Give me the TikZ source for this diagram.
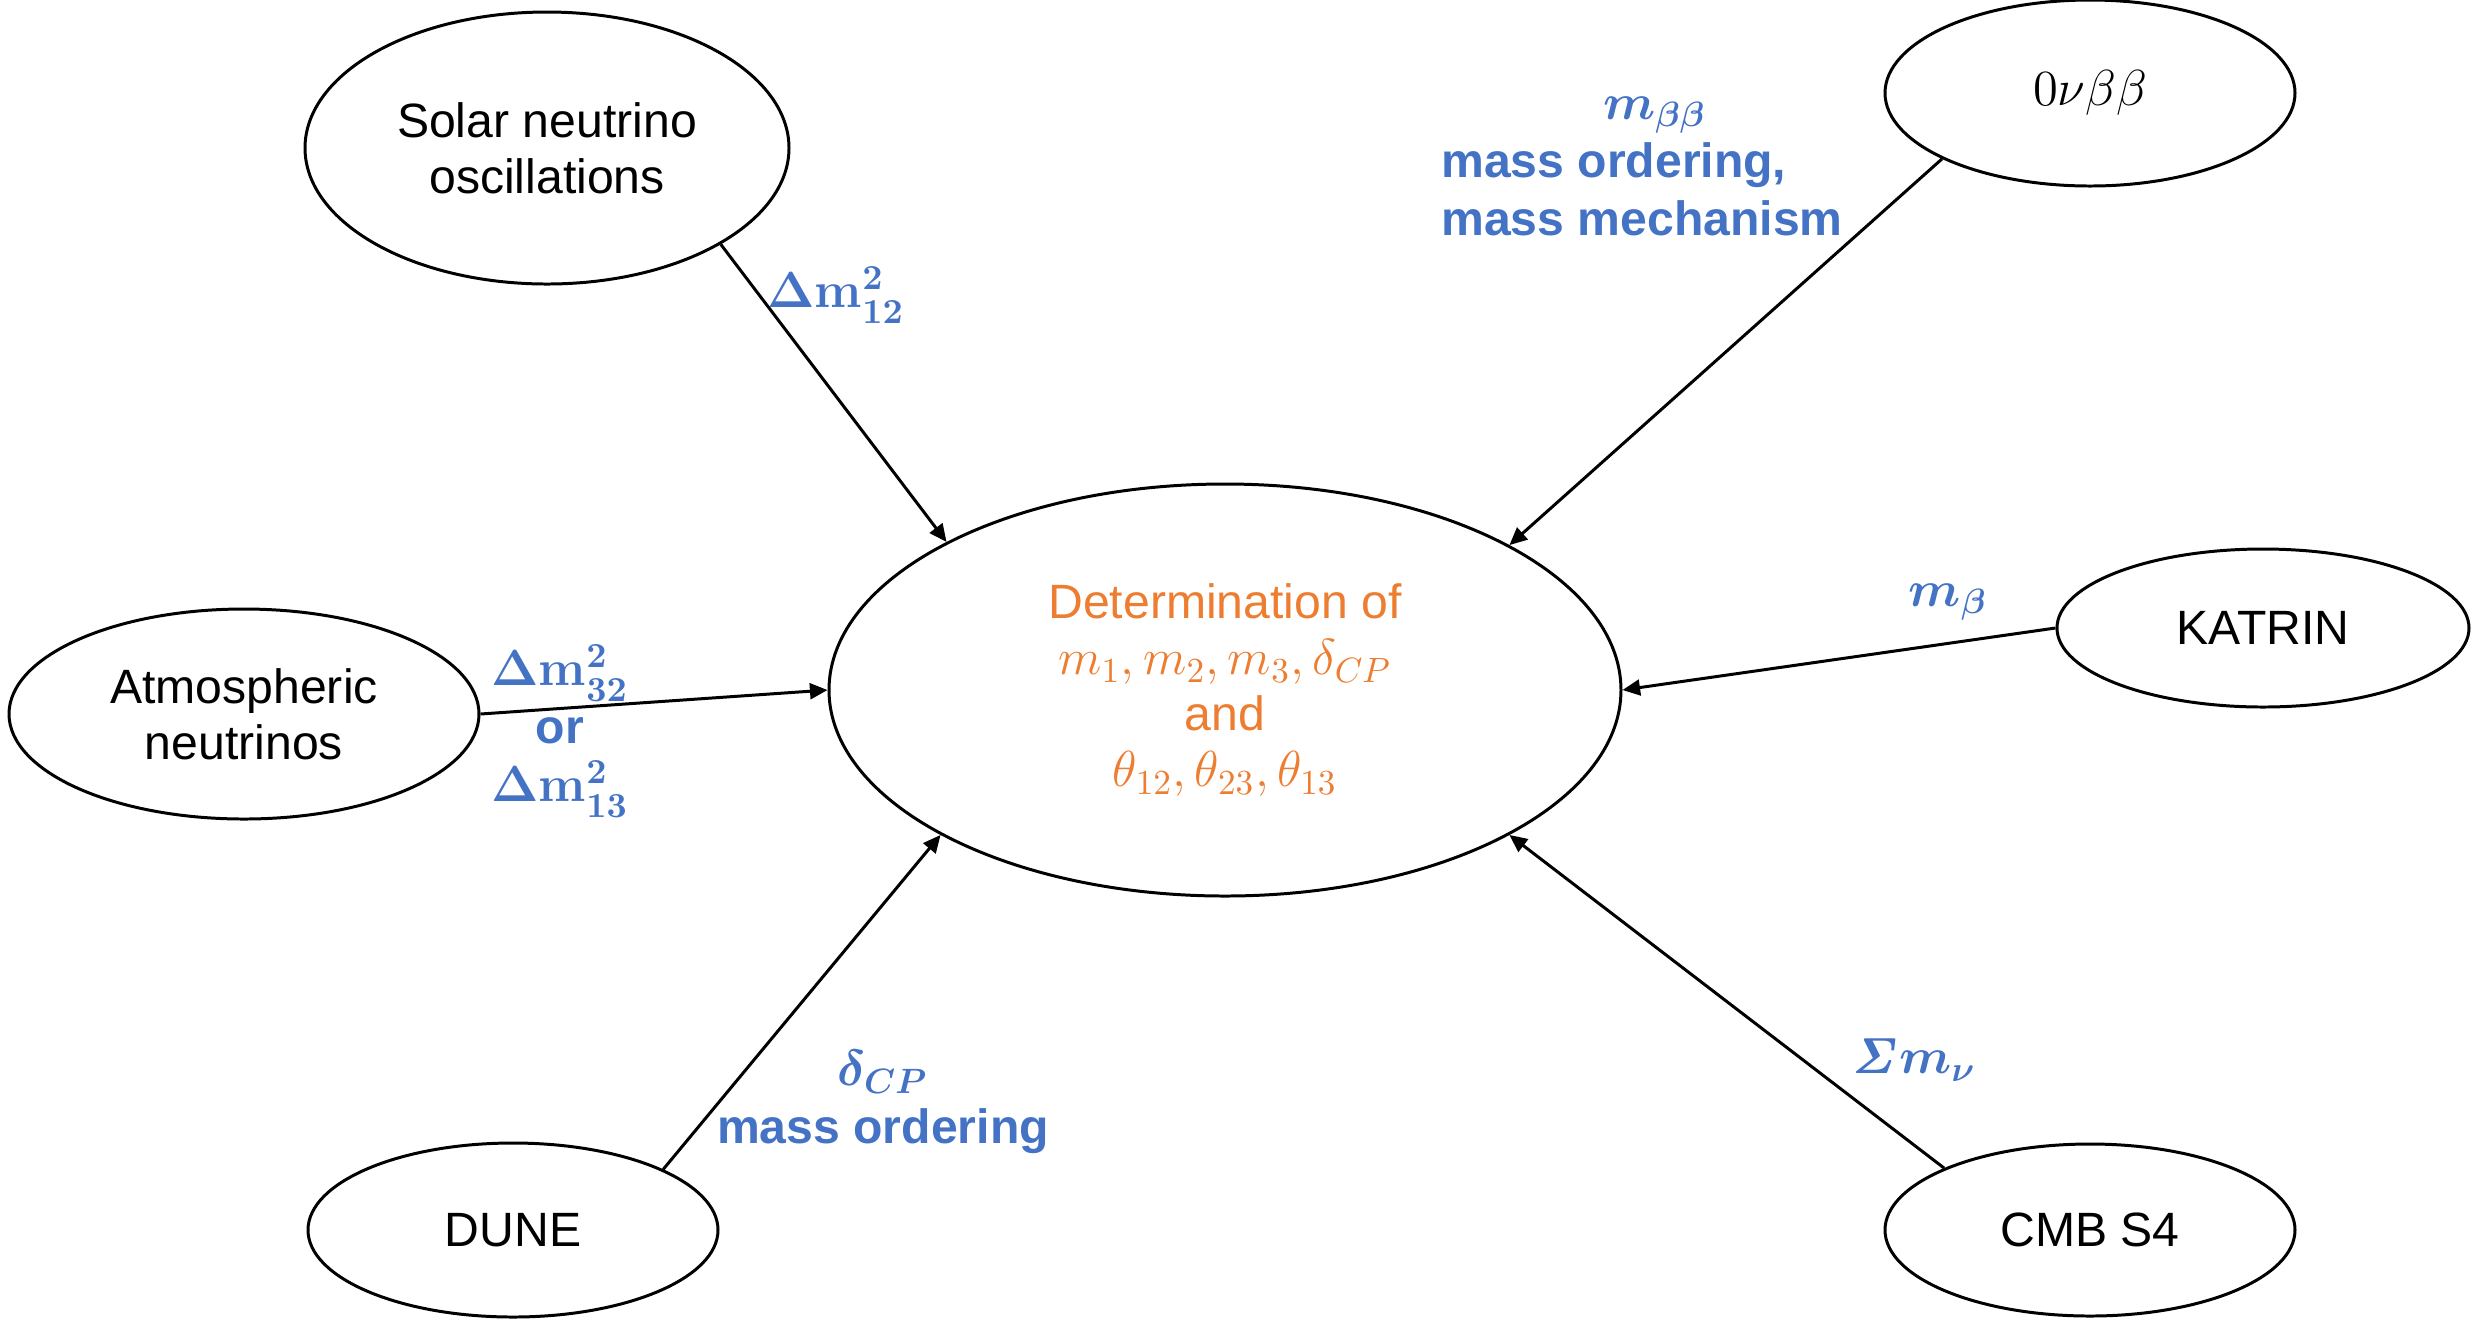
\documentclass[tikz,border=0pt]{standalone}
\usepackage{amsmath,amssymb}
\usepackage[no-math]{fontspec}
\setmainfont{Liberation Sans}
\usepackage{xcolor}
\usepackage{tikz}
\usetikzlibrary{arrows.meta,shapes.geometric}
\definecolor{lblue}{HTML}{4472C4}
\definecolor{lorange}{HTML}{ED7D31}

\begin{document}
\begin{tikzpicture}[line width=0.85pt,
    oval/.style={draw,ellipse,inner sep=0pt,align=center,font=\fontsize{13.7}{16}\selectfont},
    lbl/.style={text=lblue,align=center,font=\bfseries\fontsize{13.7}{16.5}\selectfont},
    link/.style={-{Triangle[length=5pt,width=4.5pt]}}]
  \useasboundingbox (0,0) rectangle (24.73,-13.18);
  \node[oval,minimum width=7.92cm,minimum height=4.12cm,text=lorange] (det) at (12.25,-6.90)
    {Determination of\\$m_1, m_2, m_3, \delta_{CP}$\\and\\$\theta_{12}, \theta_{23}, \theta_{13}$};
  \node[oval,minimum width=4.84cm,minimum height=2.72cm] (solar) at (5.47,-1.48) {Solar neutrino\\oscillations};
  \node[oval,minimum width=4.70cm,minimum height=2.10cm] (atmo) at (2.44,-7.14) {Atmospheric\\neutrinos};
  \node[oval,minimum width=4.10cm,minimum height=1.74cm] (dune) at (5.13,-12.30) {DUNE};
  \node[oval,minimum width=4.10cm,minimum height=1.86cm] (onbb) at (20.90,-0.93) {$0\nu\beta\beta$};
  \node[oval,minimum width=4.12cm,minimum height=1.58cm] (katrin) at (22.63,-6.28) {KATRIN};
  \node[oval,minimum width=4.10cm,minimum height=1.72cm] (cmb) at (20.90,-12.30) {CMB S4};

  \draw[link] (solar.-29.4) -- (det.152.4);
  \draw[link] (atmo.east) -- (det.west);
  \draw[link] (dune.22.8) -- (det.207.6);
  \draw[link] (onbb.204.4) -- (det.27.3);
  \draw[link] (katrin.west) -- (det.east);
  \draw[link] (cmb.157) -- (det.-27.3);

  \node[lbl] (lsolar) at (8.36,-2.95) {$\boldsymbol{\Delta\mathrm{m}^{2}_{12}}$};
  \node[lbl] (latmo) at (5.60,-7.31) {$\boldsymbol{\Delta\mathrm{m}^{2}_{32}}$\\or\\$\boldsymbol{\Delta\mathrm{m}^{2}_{13}}$};
  \node[lbl,align=left,anchor=west] (lonbb) at (14.28,-1.66)
    {\hspace*{1.62cm}$\boldsymbol{m_{\beta\beta}}$\\mass ordering,\\mass mechanism};
  \node[lbl] (lkatrin) at (19.48,-6.02) {$\boldsymbol{m_{\beta}}$};
  \node[lbl] (lcmb) at (19.14,-10.60) {$\boldsymbol{\mathit{\Sigma} m_{\nu}}$};
  \node[lbl] (ldune) at (8.83,-11.02) {$\boldsymbol{\delta_{CP}}$\\mass ordering};
\end{tikzpicture}
\end{document}
